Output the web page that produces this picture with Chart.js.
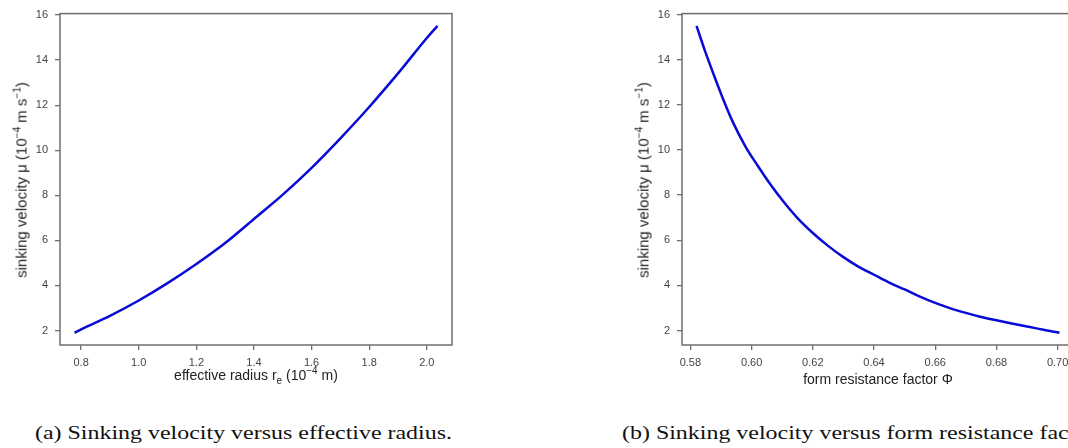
<!DOCTYPE html>
<html>
<head>
<meta charset="utf-8">
<title>Sinking velocity</title>
<script src="https://cdn.jsdelivr.net/npm/chart.js@4.4.0/dist/chart.umd.min.js"></script>
<style>
  html, body { margin: 0; padding: 0; background: #fff; width: 1068px; height: 448px; overflow: hidden; }
  .panel { position: absolute; top: 0; width: 470px; height: 400px; }
  .panel canvas { position: absolute; left: 0; top: 0; }
  .ytitle {
    position: absolute; left: 21px; top: 180px;
    transform: translate(-50%, -50%) rotate(-90deg);
    white-space: nowrap; font: 15px "Liberation Sans", Arial, sans-serif; color: #222;
  }
  .xtitle {
    position: absolute; left: 256px;
    transform: translate(-50%, -50%);
    white-space: nowrap; font: 14px "Liberation Sans", Arial, sans-serif; color: #222;
  }
  sup, sub { font-size: 10px; line-height: 0; }
  .caption {
    position: absolute; top: 433px; transform-origin: left center;
    white-space: nowrap; font: 19px "Liberation Serif", serif; color: #111;
    margin-top: -11px;
  }
</style>
</head>
<body>

<div class="panel" id="panelA" style="left:0">
  <canvas id="chartA"></canvas>
  <div class="ytitle">sinking velocity μ (10<sup>−4</sup> m s<sup>−1</sup>)</div>
  <div class="xtitle" style="top:375px">effective radius r<sub>e</sub> (10<sup>−4</sup> m)</div>
</div>

<div class="panel" id="panelB" style="left:622px">
  <canvas id="chartB"></canvas>
  <div class="ytitle">sinking velocity μ (10<sup>−4</sup> m s<sup>−1</sup>)</div>
  <div class="xtitle" style="top:379px">form resistance factor Φ</div>
</div>

<div class="caption" id="capA" style="left:35px">(a) Sinking velocity versus effective radius.</div>
<div class="caption" id="capB" style="left:622px">(b) Sinking velocity versus form resistance factor.</div>

<script>
// values
const radius = [0.777, 0.8, 0.9, 1.0, 1.1, 1.2, 1.3, 1.4, 1.5, 1.6, 1.7, 1.8, 1.9, 2.0, 2.037];
const velocityByRadius = [1.90, 2.05, 2.65, 3.33, 4.10, 4.95, 5.88, 6.95, 8.03, 9.22, 10.53, 11.92, 13.41, 14.98, 15.52];

const phi = [0.582, 0.585, 0.588, 0.591, 0.594, 0.598, 0.602, 0.606, 0.610, 0.615, 0.620, 0.625,
  0.630, 0.635, 0.640, 0.645, 0.650, 0.655, 0.660, 0.665, 0.670, 0.675, 0.680, 0.685, 0.690, 0.695, 0.7006];
const velocityByPhi = [15.50, 14.30, 13.20, 12.15, 11.20, 10.15, 9.30, 8.50, 7.78, 6.98, 6.32, 5.75,
  5.25, 4.82, 4.47, 4.12, 3.82, 3.50, 3.22, 2.98, 2.78, 2.60, 2.45, 2.31, 2.18, 2.04, 1.90];

const velocityTicks = [2, 4, 6, 8, 10, 12, 14, 16];
const radiusTicks = [0.8, 1.0, 1.2, 1.4, 1.6, 1.8, 2.0];
const phiTicks = [0.58, 0.60, 0.62, 0.64, 0.66, 0.68, 0.70];

const axisColor = "#6e6e6e";
const lineColor = "#0a0ad8";

Chart.defaults.font.family = '"Liberation Sans", Arial, sans-serif';
Chart.defaults.font.size = 11;
Chart.defaults.color = "#444";

// draws the full box around the plot region (R style)
const framePlugin = {
  id: "frame",
  afterDraw(chart) {
    const { ctx, chartArea } = chart;
    ctx.save();
    ctx.strokeStyle = axisColor;
    ctx.lineWidth = 1.5;
    ctx.strokeRect(chartArea.left, chartArea.top, chartArea.right - chartArea.left, chartArea.bottom - chartArea.top);
    ctx.restore();
  },
};

// 4% padding around data range, like R's default axes
function paddedRange(values) {
  const lo = Math.min(...values);
  const hi = Math.max(...values);
  const pad = (hi - lo) * 0.04;
  return [lo - pad, hi + pad];
}

function makeChart(canvasId, xs, ys, xTicks, xDigits) {
  const [xmin, xmax] = paddedRange(xs);
  const [ymin, ymax] = paddedRange(ys);
  const points = xs.map((x, i) => ({ x, y: ys[i] }));

  const grid = {
    display: true,
    drawOnChartArea: false,
    drawTicks: true,
    tickLength: 5,
    color: axisColor,
    lineWidth: 1.3,
  };

  return new Chart(document.getElementById(canvasId), {
    type: "line",
    data: {
      datasets: [{
        data: points,
        borderColor: lineColor,
        borderWidth: 2.5,
        pointRadius: 0,
        fill: false,
        cubicInterpolationMode: "monotone",
      }],
    },
    options: {
      responsive: true,
      maintainAspectRatio: false,
      animation: false,
      layout: { padding: { left: 0, top: 10, right: 18, bottom: 0 } },
      plugins: { legend: { display: false }, tooltip: { enabled: false } },
      scales: {
        x: {
          type: "linear",
          min: xmin,
          max: xmax,
          grid,
          border: { display: false },
          afterBuildTicks: (s) => { s.ticks = xTicks.map((v) => ({ value: v })); },
          afterFit: (s) => { s.height = 55; },
          ticks: {
            padding: 6,
            maxRotation: 0,
            callback: (v) => Number(v).toFixed(xDigits),
          },
        },
        y: {
          type: "linear",
          min: ymin,
          max: ymax,
          grid,
          border: { display: false },
          afterBuildTicks: (s) => { s.ticks = velocityTicks.map((v) => ({ value: v })); },
          afterFit: (s) => { s.width = 60; },
          ticks: {
            padding: 7,
            callback: (v) => String(v),
          },
        },
      },
    },
    plugins: [framePlugin],
  });
}

makeChart("chartA", radius, velocityByRadius, radiusTicks, 1);
makeChart("chartB", phi, velocityByPhi, phiTicks, 2);

// stretch captions to the width of the LaTeX caption font
const capA = document.getElementById("capA");
const capB = document.getElementById("capB");
const k = 417 / capA.getBoundingClientRect().width;
capA.style.transform = `scaleX(${k})`;
capB.style.transform = `scaleX(${k})`;
</script>
</body>
</html>
